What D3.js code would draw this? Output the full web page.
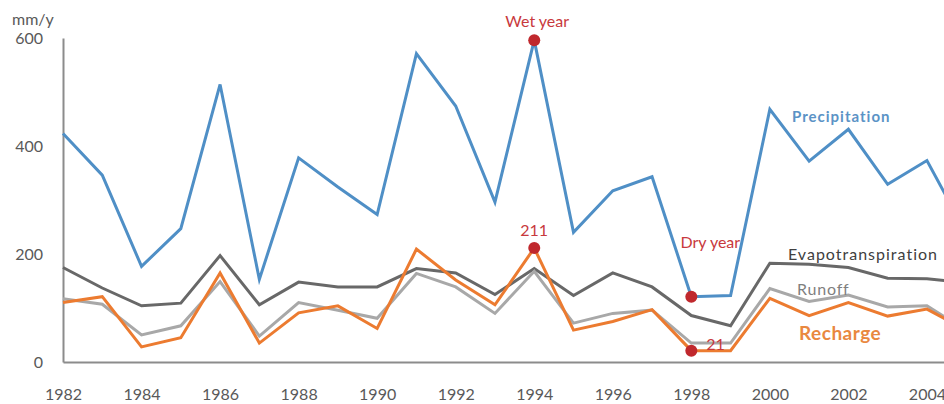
<!DOCTYPE html>
<html>
<head>
<meta charset="utf-8">
<script src="https://cdn.jsdelivr.net/npm/d3@7"></script>
<style>
  html, body { margin: 0; padding: 0; background: #ffffff; }
  svg { display: block; }
  text { font-family: "Lato", "Open Sans", sans-serif; }
</style>
</head>
<body>
<svg id="chart" width="944" height="404"></svg>
<script>
// Annual water balance, mm per year
const years = [1982, 1983, 1984, 1985, 1986, 1987, 1988, 1989, 1990, 1991, 1992, 1993,
               1994, 1995, 1996, 1997, 1998, 1999, 2000, 2001, 2002, 2003, 2004, 2005];
const precipitation = [423, 346, 177, 247, 514, 153, 378, 324, 273, 571, 474, 296,
                       596, 240, 317, 343, 121, 123, 468, 372, 431, 329, 373, 239];
const evapotranspiration = [175, 137, 104, 109, 197, 106, 148, 139, 139, 173, 165, 125,
                            173, 123, 165, 139, 86, 67, 183, 181, 175, 155, 154, 147];
const runoff = [117, 107, 50, 67, 149, 48, 110, 96, 81, 164, 139, 90,
                168, 72, 90, 96, 35, 35, 136, 112, 124, 102, 104, 58];
const recharge = [110, 121, 28, 45, 165, 35, 91, 104, 62, 209, 152, 106,
                  211, 59, 75, 97, 21, 21, 118, 86, 110, 85, 98, 59];
const yTicks = [0, 200, 400, 600];
const xTicks = [1982, 1984, 1986, 1988, 1990, 1992, 1994, 1996, 1998, 2000, 2002, 2004];
const wetYear = 1994;
const dryYear = 1998;

const svg = d3.select("#chart");

const x = d3.scaleLinear().domain([1982, 2005]).range([63, 966.2]);
const y = d3.scaleLinear().domain([0, 600]).range([362, 38]);

const axisColor = "#8c8c8c";
const tickColor = "#595959";

// Axes
const yAxis = svg.append("g")
  .attr("transform", `translate(${x(1982)},0)`)
  .call(d3.axisLeft(y).tickValues(yTicks).tickSize(0).tickSizeOuter(0).tickPadding(20));
const xAxis = svg.append("g")
  .attr("transform", `translate(0,${y(0)})`)
  .call(d3.axisBottom(x).tickValues(xTicks).tickFormat(d3.format("d"))
        .tickSize(0).tickSizeOuter(0).tickPadding(27));
[yAxis, xAxis].forEach(g => {
  g.select(".domain").attr("stroke", axisColor).attr("stroke-width", 2);
  g.selectAll("text").attr("fill", tickColor).attr("font-size", 16)
    .style("font-family", "Lato, 'Open Sans', sans-serif");
});

svg.append("text")
  .attr("x", 12).attr("y", 25)
  .attr("fill", tickColor).attr("font-size", 16)
  .text("mm/y");

// Series lines
const series = [
  { values: precipitation, color: "#4f8fc6" },
  { values: evapotranspiration, color: "#686868" },
  { values: runoff, color: "#a8a8a8" },
  { values: recharge, color: "#ec7b30" }
];
const line = d3.line().x((d, i) => x(years[i])).y(d => y(d));
svg.selectAll("path.series")
  .data(series)
  .join("path")
  .attr("class", "series")
  .attr("fill", "none")
  .attr("stroke", d => d.color)
  .attr("stroke-width", 3)
  .attr("stroke-linejoin", "miter")
  .attr("d", d => line(d.values));

// Wet / dry year markers
const red = "#c0282d";
const wi = years.indexOf(wetYear);
const di = years.indexOf(dryYear);
const markers = [
  [wetYear, precipitation[wi]],
  [wetYear, recharge[wi]],
  [dryYear, precipitation[di]],
  [dryYear, recharge[di]]
];
svg.selectAll("circle.marker")
  .data(markers)
  .join("circle")
  .attr("class", "marker")
  .attr("cx", d => x(d[0]))
  .attr("cy", d => y(d[1]))
  .attr("r", 6)
  .attr("fill", red);

const annot = svg.append("g").attr("fill", "#c8393d").attr("font-size", 16);
annot.append("text")
  .attr("x", x(wetYear) + 3).attr("y", y(precipitation[wi]) - 20)
  .attr("text-anchor", "middle").attr("dominant-baseline", "central")
  .text("Wet year");
annot.append("text")
  .attr("x", x(wetYear)).attr("y", y(recharge[wi]) - 19)
  .attr("text-anchor", "middle").attr("dominant-baseline", "central")
  .text(recharge[wi]);
annot.append("text")
  .attr("x", x(dryYear) + 19).attr("y", y(precipitation[di]) - 55)
  .attr("text-anchor", "middle").attr("dominant-baseline", "central")
  .text("Dry year");
annot.append("text")
  .attr("x", x(dryYear) + 15).attr("y", y(recharge[di]) - 7)
  .attr("dominant-baseline", "central")
  .text(recharge[di]);

// Series names
const names = [
  { text: "Precipitation", x: 792, y: 116, color: "#5b93c6", size: 15, weight: 700, spacing: 1 },
  { text: "Evapotranspiration", x: 788, y: 253, color: "#404040", size: 16, weight: 400, spacing: 1 },
  { text: "Runoff", x: 797, y: 288, color: "#7f7f7f", size: 16, weight: 400, spacing: 0.8 },
  { text: "Recharge", x: 799, y: 332, color: "#e9883f", size: 19, weight: 700, spacing: 0.5 }
];
svg.selectAll("text.name")
  .data(names)
  .join("text")
  .attr("class", "name")
  .attr("x", d => d.x).attr("y", d => d.y)
  .attr("dominant-baseline", "central")
  .attr("fill", d => d.color)
  .attr("font-size", d => d.size)
  .attr("font-weight", d => d.weight)
  .attr("letter-spacing", d => d.spacing)
  .text(d => d.text);
</script>
</body>
</html>
